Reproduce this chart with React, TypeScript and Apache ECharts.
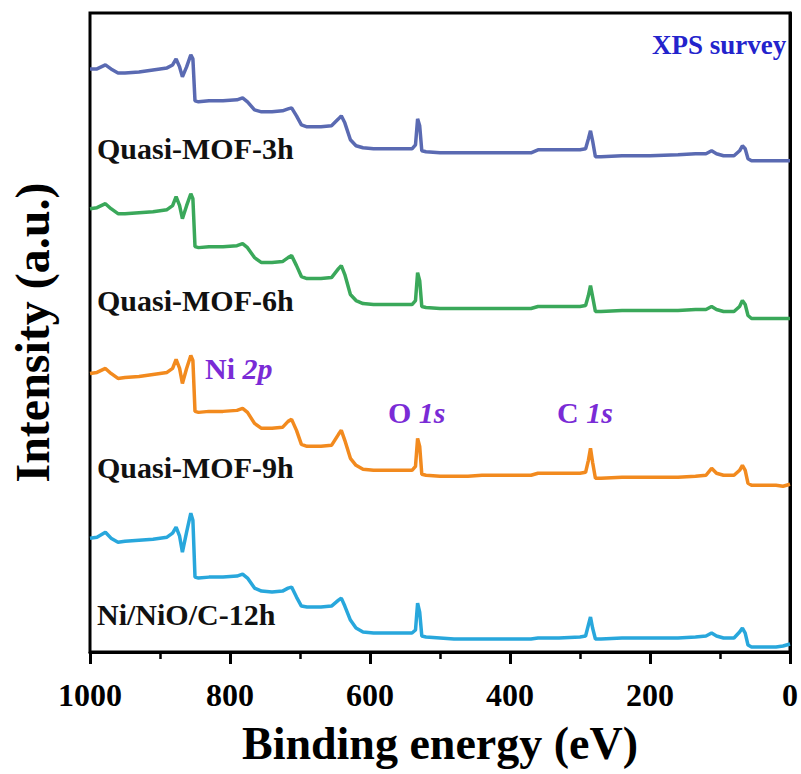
import React, { useEffect, useRef } from "react";
import * as echarts from "echarts";

const energies = [1000,990,978,970,960,950,930,910,890,882,877,872,868,862,856,853,850,845,830,810,790,782,775,765,755,740,725,717,712,705,698,690,670,655,645,641,636,628,620,610,595,575,555,540,535,532,529,526,520,500,480,460,440,400,370,360,330,300,292,288,285,282,278,270,240,200,160,135,120,112,105,95,80,72,68,64,60,55,40,20,10,0];

const mof3h = [584,584,588,584,580,580,581,583,585,588,594,586,576,586,598,594,552,551,552,552,553,555,551,543,541,541,542,544,545,537,528,526,526,527,534,537,530,513,507,505,504,504,504,504,508,534,527,502,501,500,500,500,500,500,500,503,503,503,504,514,522,512,496,496,497,497,498,499,499,502,499,497,497,502,507,504,494,492,492,492,492,492];
const mof6h = [444,445,449,444,439,439,440,441,443,447,456,447,434,447,459,454,406,405,406,406,407,409,405,395,390,390,391,395,397,387,376,374,374,375,384,387,378,358,352,349,348,348,348,348,352,380,372,346,345,344,344,344,344,344,344,346,346,346,347,357,367,356,341,341,342,342,342,343,343,346,343,341,341,346,352,348,337,334,334,334,334,334];
const mof9h = [279,280,284,279,274,275,276,278,280,284,293,284,269,284,297,292,241,240,241,241,242,244,240,229,224,224,225,231,233,222,208,206,206,207,218,222,212,194,187,183,182,182,182,182,186,214,206,178,177,176,176,176,177,177,177,179,179,179,180,192,204,190,174,174,175,175,175,176,177,184,179,177,177,182,187,182,169,167,167,167,166,168];
const nio12h = [114,115,120,114,110,111,112,113,115,119,125,116,100,120,139,132,75,74,75,75,76,78,74,64,61,60,61,64,65,55,46,45,45,46,52,54,46,32,24,20,19,19,19,19,22,49,40,16,15,14,13,13,13,13,13,14,14,15,16,27,35,24,13,13,14,14,14,15,16,19,16,14,14,20,24,19,7,5,5,5,6,8];

const seriesNames = ["Quasi-MOF-3h", "Quasi-MOF-6h", "Quasi-MOF-9h", "Ni/NiO/C-12h"];
const seriesValues = [mof3h, mof6h, mof9h, nio12h];
const seriesColors = ["#5a6ab2", "#3aa85a", "#f28a1e", "#28a7dc"];
const xTicks = [0, 200, 400, 600, 800, 1000];

const FONT = "Liberation Serif";
const PURPLE = "#7a2bd6";

export default function App() {
  const ref = useRef<HTMLDivElement>(null);
  useEffect(() => {
    if (!ref.current) return;
    const chart = echarts.init(ref.current, undefined, { renderer: "svg" });
    const labelY = [148, 300, 467, 614];
    const LS = 30;
    const textStyleBase = { fontFamily: FONT, fontWeight: "bold" as const, fontSize: LS, fill: "#111" };
    const PS = 30;
    const peakRich = {
      n: { fontFamily: FONT, fontWeight: "bold" as const, fontSize: PS, fill: PURPLE, color: PURPLE },
      i: { fontFamily: FONT, fontWeight: "bold" as const, fontStyle: "italic" as const, fontSize: PS, fill: PURPLE, color: PURPLE },
    };
    chart.setOption({
      animation: false,
      backgroundColor: "#fff",
      grid: { left: 88, right: 10, top: 13, bottom: 122, show: true, borderColor: "#000", borderWidth: 3, backgroundColor: "transparent" },
      xAxis: {
        type: "value",
        min: 0,
        max: 1000,
        interval: 200,
        inverse: true,
        name: "Binding energy (eV)",
        nameLocation: "middle",
        nameGap: 68,
        nameTextStyle: { fontFamily: FONT, fontWeight: "bold", fontSize: 46, color: "#000" },
        axisLine: { show: true, lineStyle: { color: "#000", width: 3 } },
        axisTick: { show: true, inside: false, length: 12, lineStyle: { color: "#000", width: 3 } },
        minorTick: { show: true, splitNumber: 2, length: 7, lineStyle: { color: "#000", width: 2.5 } },
        splitLine: { show: false },
        axisLabel: {
          fontFamily: FONT, fontWeight: "bold", fontSize: 32, color: "#000", margin: 27,
          formatter: (v: number) => (xTicks.includes(v) ? String(v) : ""),
        },
      },
      yAxis: {
        type: "value",
        min: 0,
        max: 640,
        name: "Intensity (a.u.)",
        nameLocation: "middle",
        nameRotate: 90,
        nameGap: 34,
        nameTextStyle: { fontFamily: FONT, fontWeight: "bold", fontSize: 48, color: "#000" },
        axisLine: { show: true, lineStyle: { color: "#000", width: 3 } },
        axisTick: { show: false },
        axisLabel: { show: false },
        splitLine: { show: false },
      },
      series: seriesValues.map((vals, k) => ({
        type: "line",
        name: seriesNames[k],
        data: energies.map((e, j) => [e, vals[j]]),
        showSymbol: false,
        symbol: "none",
        lineStyle: { color: seriesColors[k], width: 3.5 },
        itemStyle: { color: seriesColors[k] },
        z: 2,
      })),
      graphic: [
        ...seriesNames.map((n, k) => ({
          type: "text",
          left: 97,
          top: labelY[k] - LS / 2,
          style: { ...textStyleBase, text: n },
          z: 10,
        })),
        { type: "text", left: 205, top: 368 - PS / 2, style: { text: "{n|Ni }{i|2p}", rich: peakRich }, z: 10 },
        { type: "text", left: 388, top: 412 - PS / 2, style: { text: "{n|O }{i|1s}", rich: peakRich }, z: 10 },
        { type: "text", left: 557, top: 412 - PS / 2, style: { text: "{n|C }{i|1s}", rich: peakRich }, z: 10 },
        { type: "text", left: 652, top: 45 - 14, style: { text: "XPS survey", fontFamily: FONT, fontWeight: "bold", fontSize: 27, fill: "#2323cc" }, z: 10 },
      ],
    });
    return () => chart.dispose();
  }, []);
  return <div ref={ref} style={{ position: "fixed", left: 0, top: 0, width: 801, height: 774 }} />;
}
